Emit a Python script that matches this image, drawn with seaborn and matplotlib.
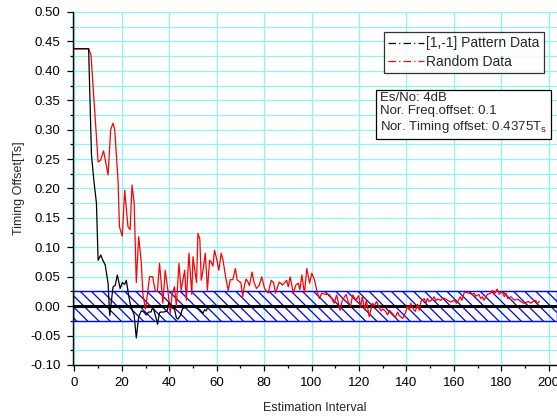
import matplotlib
matplotlib.use("Agg")
import matplotlib.pyplot as plt
from matplotlib.lines import Line2D
from matplotlib.ticker import MultipleLocator, FormatStrFormatter
import seaborn as sns
import pandas as pd

# ---- data ----
pattern_x = [0, 1, 2, 3, 4, 5, 6, 7.2, 8.3, 9.3, 10, 11.1, 12, 13, 14.2, 14.9, 16.3, 17.2,
             18.1, 19.3, 20.2, 21.2, 21.9, 22.8, 23.5, 24.2, 25.2, 26.1, 27.1, 28.2, 29.3,
             30.3, 31.3, 32.3, 33.1, 34.5, 35.1, 35.8, 36.3, 37.7, 39.1, 39.8, 41.2, 42.2,
             43, 43.7, 44.8, 45.5, 46.2, 47.6, 49, 50.4, 51.8, 52.9, 54.2, 54.9, 55.6, 56.4,
             57.8, 58.4]
pattern_y = [0.4375, 0.4375, 0.4375, 0.4375, 0.4375, 0.4375, 0.4375, 0.257, 0.21, 0.175,
             0.078, 0.087, 0.078, 0.07, 0.039, -0.016, 0.033, 0.035, 0.053, 0.03, 0.04,
             0.037, 0.044, 0.02, 0.005, -0.004, -0.015, -0.054, -0.018, -0.008, -0.01,
             -0.015, -0.01, -0.01, -0.001, -0.021, -0.031, -0.012, -0.01, -0.01, -0.008,
             0.006, -0.003, -0.005, -0.02, -0.022, -0.015, -0.005, -0.003, -0.002, -0.001,
             -0.002, -0.003, -0.006, -0.012, -0.006, -0.008, 0.0, 0.0, 0.002]

random_x = [0, 1, 2, 3, 4, 5, 6, 7, 10, 11, 12.3, 14.2, 15.3, 16.3, 17, 18.4, 19, 20.2,
            21.2, 22.6, 23.5, 24.3, 25.2, 26.1, 27.1, 28.2, 28.9, 30, 31.7, 33, 34.1, 35,
            35.9, 37.3, 38.3, 39.4, 40.4, 41.2, 42.2, 43, 44.1, 45, 46.5, 47.2, 48.3, 49.5,
            50, 51.5, 52.1, 52.9, 53.5, 54.2, 55.2, 56.1, 57, 57.7, 58.4, 59.1, 60, 60.9,
            61.9, 62.6, 63.4, 64, 64.9, 65.7, 66.8, 67.9, 68.6, 69.5, 70.2, 71, 71.7, 72.4,
            73.1, 73.8, 74.9, 75.8, 76.8, 77.9, 79, 80.2, 81.7, 83, 84, 84.8, 86.4, 87.8,
            89.5, 90.2, 91, 92.3, 93.4, 94.4, 95.1, 95.9, 97, 98, 99.2, 100.1, 101.2,
            102.3, 103.3, 104.3, 106, 107.4, 108.4, 109.5, 110.6, 112, 113, 114.6, 115.4,
            116.4, 117.4, 118.7, 119.9, 120.6, 121.4, 122.4, 123.1, 124.3, 125, 125.7,
            126.4, 127.4, 128.5, 129.3, 130, 131.1, 132.1, 132.8, 134.2, 135.3, 136.3, 137,
            138.4, 139.5, 140.5, 141.2, 141.9, 142.6, 143.7, 144.7, 145.4, 146.1, 146.8,
            147.5, 148.2, 148.9, 149.6, 150.6, 151.7, 152.4, 153.1, 154.5, 155.5, 156.6,
            157.7, 158.7, 160.1, 161.2, 162.7, 163.4, 164.3, 165, 166.4, 167.8, 168.5,
            169.2, 170.6, 171.3, 172, 172.7, 174.1, 175.5, 176.3, 177, 178.3, 179.2, 179.9,
            180.6, 181.3, 182, 182.7, 184.1, 185.5, 186.9, 188.3, 189.3, 190.3, 191.5,
            192.4, 193.4, 194.5, 195.2, 196]
random_y = [0.4375, 0.4375, 0.4375, 0.4375, 0.4375, 0.4375, 0.4375, 0.427, 0.245, 0.248,
            0.264, 0.223, 0.30, 0.311, 0.30, 0.214, 0.135, 0.119, 0.197, 0.135, 0.13,
            0.206, 0.175, 0.04, 0.118, 0.075, 0.02, -0.005, 0.05, 0.05, 0.025, 0.025,
            0.073, 0.005, 0.061, 0.028, -0.012, 0.02, 0.033, 0.0, 0.073, 0.027, 0.061,
            0.01, 0.09, 0.02, 0.084, 0.04, 0.124, 0.113, 0.044, 0.06, 0.09, 0.027, 0.078,
            0.075, 0.068, 0.095, 0.08, 0.061, 0.09, 0.08, 0.06, 0.044, 0.027, 0.045, 0.045,
            0.064, 0.045, 0.042, 0.04, 0.016, 0.035, 0.046, 0.042, 0.035, 0.058, 0.04,
            0.03, 0.035, 0.05, 0.03, 0.022, 0.044, 0.04, 0.022, 0.041, 0.036, 0.044, 0.033,
            0.05, 0.022, 0.036, 0.039, 0.028, 0.053, 0.022, 0.064, 0.039, 0.056, 0.045,
            0.025, 0.013, 0.022, 0.02, 0.02, 0.014, 0.005, 0.019, -0.007, 0.01, 0.02,
            0.008, 0.0, 0.019, 0.01, 0.018, -0.002, 0.016, -0.006, 0.011, -0.018, -0.006,
            0.005, 0.0, 0.008, -0.002, -0.008, -0.005, -0.008, -0.015, -0.007, -0.013,
            -0.019, -0.01, -0.016, -0.021, -0.012, 0.0, -0.006, 0.005, -0.003, -0.009,
            0.003, -0.007, 0.008, 0.011, 0.013, 0.005, 0.013, 0.008, 0.01, 0.016, 0.009,
            0.012, 0.01, 0.014, 0.012, 0.009, 0.007, 0.01, 0.005, 0.016, 0.01, 0.022,
            0.024, 0.022, 0.02, 0.022, 0.017, 0.02, 0.013, 0.016, 0.01, 0.02, 0.022, 0.027,
            0.02, 0.029, 0.02, 0.024, 0.022, 0.016, 0.022, 0.013, 0.016, 0.01, 0.012,
            0.008, 0.005, 0.006, 0.008, 0.005, 0.008, 0.01, 0.004, 0.008]

band_low, band_high = -0.025, 0.025
series_labels = ["[1,-1] Pattern Data", "Random Data"]
info_lines = ["Es/No: 4dB", "Nor. Freq.offset: 0.1", "Nor. Timing offset: 0.4375T$_{\\mathregular{s}}$"]

# ---- plotting ----
sns.set_style("ticks")
plt.rcParams["font.family"] = ["Liberation Sans", "DejaVu Sans"]
plt.rcParams["mathtext.fontset"] = "custom"
plt.rcParams["mathtext.rm"] = "Liberation Sans"

fig = plt.figure(figsize=(5.57, 4.16), dpi=100)
ax = fig.add_axes([0.131, 0.1226, 0.869, 0.8486])

grid_c = "#8cf5f5"
ax.set_xlim(-0.6, 203.5)
ax.set_ylim(-0.10, 0.50)
ax.xaxis.set_major_locator(MultipleLocator(20))
ax.xaxis.set_minor_locator(MultipleLocator(10))
ax.yaxis.set_major_locator(MultipleLocator(0.05))
ax.yaxis.set_minor_locator(MultipleLocator(0.025))
ax.yaxis.set_major_formatter(FormatStrFormatter("%.2f"))
ax.grid(True, which="major", axis="x", color=grid_c, lw=0.9, zorder=0)
ax.grid(True, which="both", axis="y", color=grid_c, lw=0.9, zorder=0)
ax.set_axisbelow(True)

plt.rcParams["hatch.linewidth"] = 0.9
ax.axhspan(band_low, band_high, facecolor="none", edgecolor="#0000ee",
           hatch="\\\\\\", lw=1.0, zorder=1)
ax.axhline(0.0, color="black", lw=2.2, zorder=2)

df_p = pd.DataFrame({"x": pattern_x, "y": pattern_y})
df_r = pd.DataFrame({"x": random_x, "y": random_y})
sns.lineplot(data=df_p, x="x", y="y", ax=ax, color="black", lw=0.9,
             estimator=None, sort=False, zorder=4)
sns.lineplot(data=df_r, x="x", y="y", ax=ax, color="#ff0000", lw=0.9,
             estimator=None, sort=False, zorder=3)

for s in ["top", "right"]:
    ax.spines[s].set_visible(False)
for s in ["left", "bottom"]:
    ax.spines[s].set_color("black")
    ax.spines[s].set_linewidth(1.0)
ax.tick_params(which="major", direction="out", length=4, width=0.9, colors="black",
               labelsize=9.5, pad=5)
ax.tick_params(which="minor", direction="out", length=2.5, width=0.9, colors="black")

ax.set_xlabel("Estimation Interval", fontsize=9, labelpad=9)
ax.set_ylabel("Timing Offset[Ts]", fontsize=9, labelpad=4)

handles = [Line2D([], [], color="black", lw=0.9, ls=(0, (6, 2.5, 1, 2.5))),
           Line2D([], [], color="#ff0000", lw=0.9, ls=(0, (6, 2.5, 1, 2.5)))]
leg = ax.legend(handles, series_labels, loc="upper right",
                bbox_to_anchor=(544 / 557, 1 - 32.3 / 416), bbox_transform=fig.transFigure,
                fontsize=10, frameon=True, fancybox=False, handlelength=2.6,
                handletextpad=0.15, borderpad=0.3, labelspacing=0.3, borderaxespad=0)
leg.get_frame().set_edgecolor("black")
leg.get_frame().set_linewidth(0.9)

fig.text(380 / 557, 1 - 92 / 416, "\n".join(info_lines), fontsize=9.5, va="top", ha="left",
         linespacing=1.15,
         bbox=dict(boxstyle="square,pad=0.3", facecolor="white", edgecolor="black", lw=0.9))

fig.savefig("out.png", dpi=100)
